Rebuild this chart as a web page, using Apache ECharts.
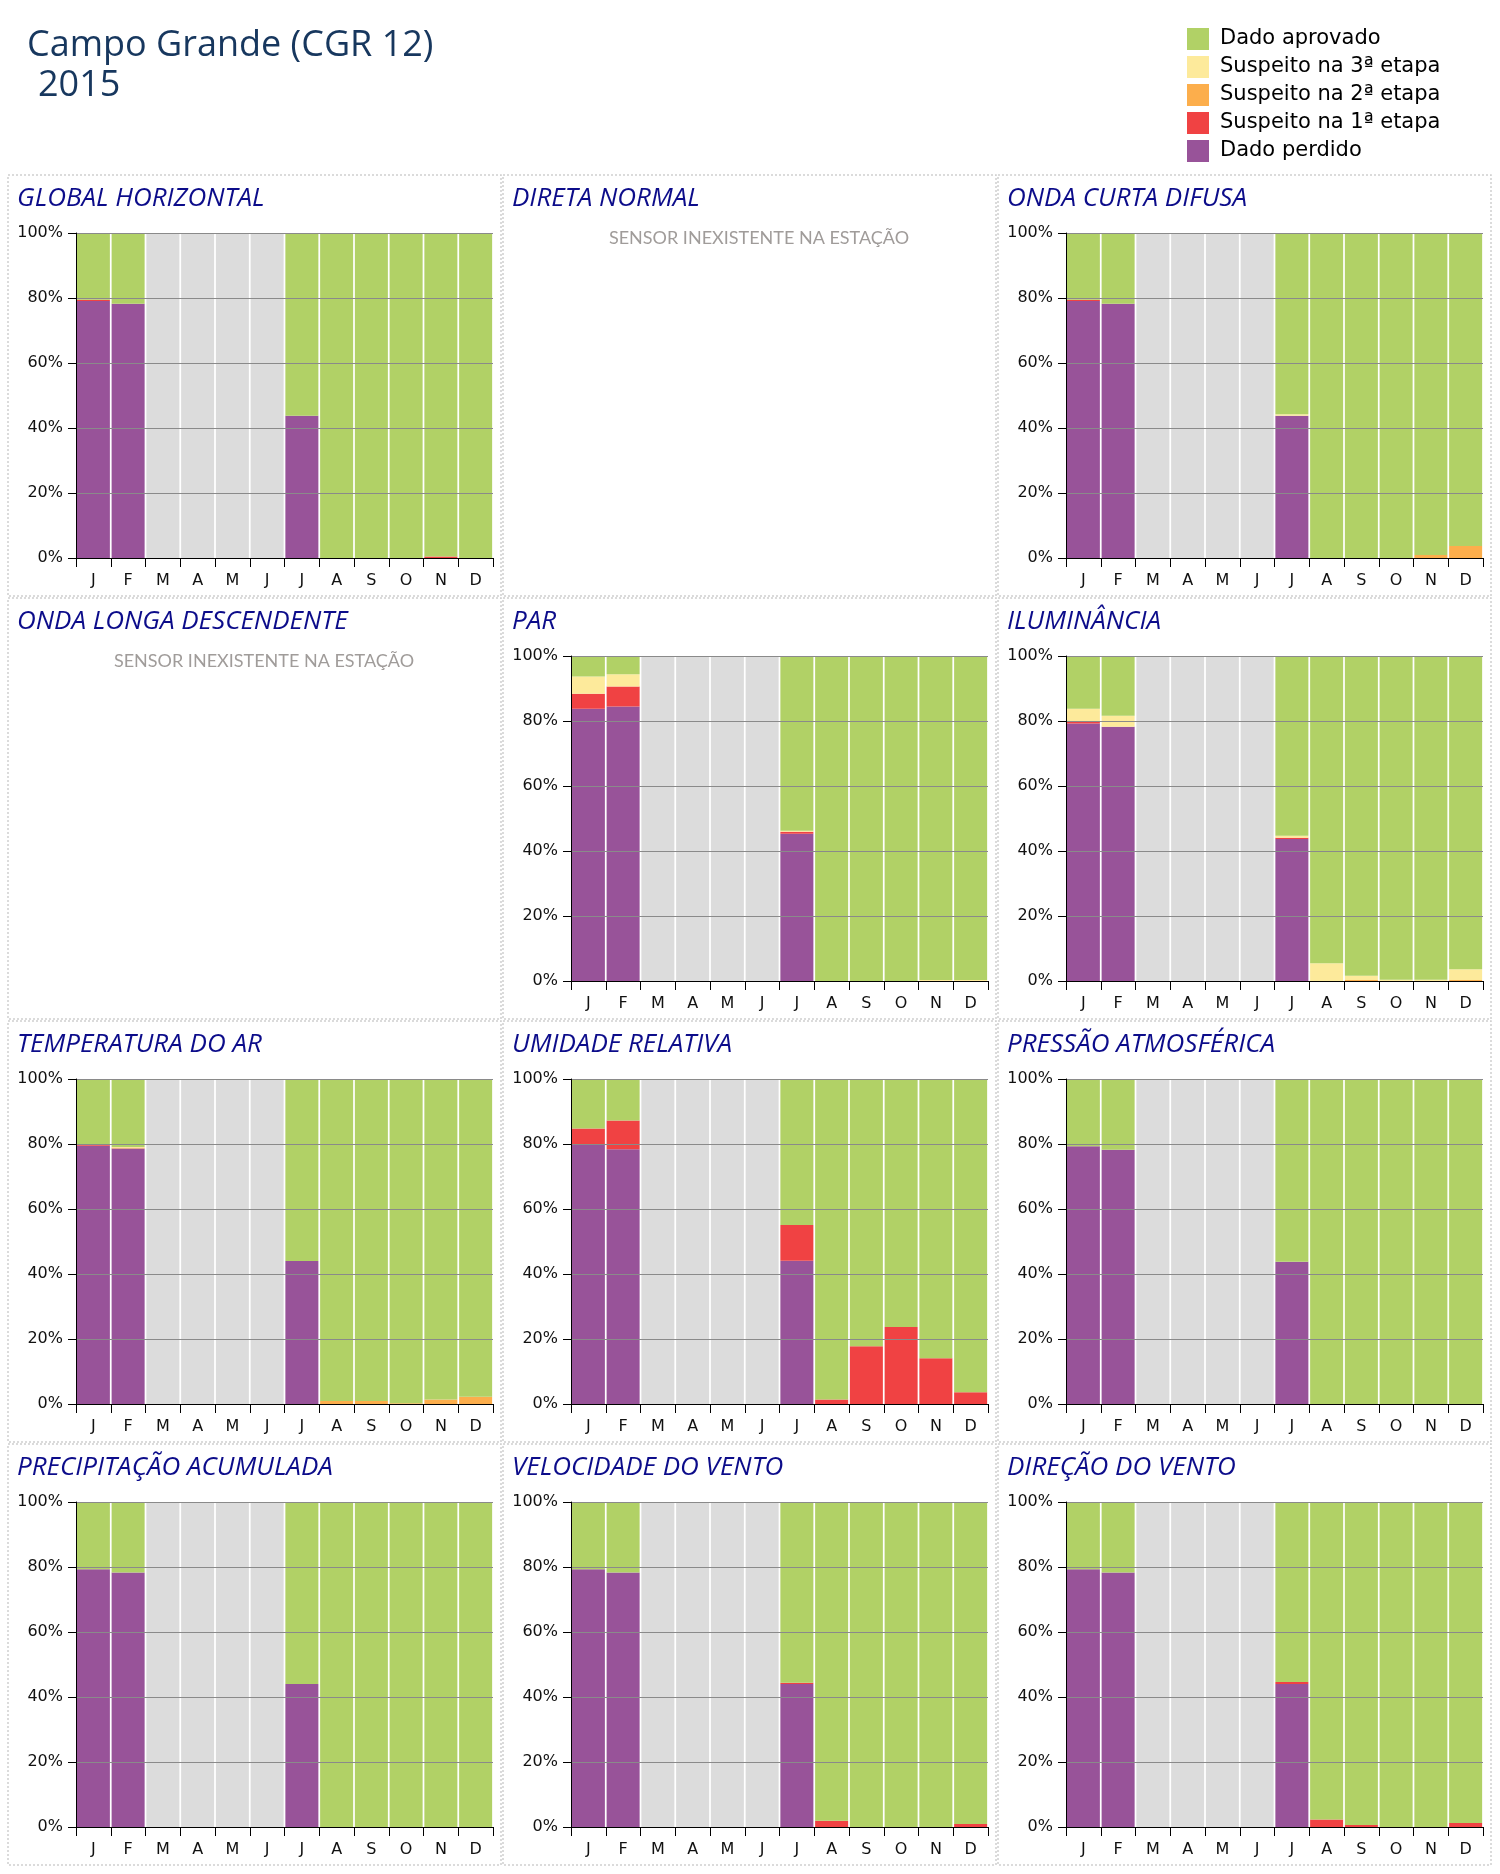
<!DOCTYPE html>
<html>
<head>
<meta charset="utf-8">
<script src="https://cdn.jsdelivr.net/npm/echarts@6/dist/echarts.min.js"></script>
<style>
html,body{margin:0;padding:0;background:#fff;}
#c{width:1500px;height:1874px;}
</style>
</head>
<body>
<div id="c"></div>
<script>
// ---- Data ----
const meses = ['J','F','M','A','M','J','J','A','S','O','N','D'];
const legendaNomes = ['Dado aprovado','Suspeito na 3ª etapa','Suspeito na 2ª etapa','Suspeito na 1ª etapa','Dado perdido'];
const semDados = [0,0,100,100,100,100,0,0,0,0,0,0];

// GLOBAL HORIZONTAL
const gh_perdido  = [79.1,78.2,0,0,0,0,43.8,0,0,0,0,0];
const gh_s1       = [0.4,0,0,0,0,0,0,0,0,0,0.5,0];
const gh_s2       = [0,0,0,0,0,0,0,0,0,0,0,0];
const gh_s3       = [0,0,0,0,0,0,0,0,0,0,0,0];
const gh_aprovado = [20.5,21.8,0,0,0,0,56.2,100,100,100,99.5,100];

// ONDA CURTA DIFUSA
const dif_perdido  = [79.1,78.2,0,0,0,0,43.8,0,0,0,0,0];
const dif_s1       = [0.4,0,0,0,0,0,0,0,0,0,0,0];
const dif_s2       = [0,0,0,0,0,0,0,0,0,0,0.9,3.7];
const dif_s3       = [0,0,0,0,0,0,0.4,0,0,0,0,0];
const dif_aprovado = [20.5,21.8,0,0,0,0,55.8,100,100,100,99.1,96.3];

// PAR
const par_perdido  = [83.8,84.5,0,0,0,0,45.3,0,0,0,0,0];
const par_s1       = [4.6,6.1,0,0,0,0,0.6,0,0,0,0,0];
const par_s2       = [0,0,0,0,0,0,0,0,0,0,0,0];
const par_s3       = [5.3,3.8,0,0,0,0,0.3,0,0,0,0.3,0.3];
const par_aprovado = [6.3,5.6,0,0,0,0,53.8,100,100,100,99.7,99.7];

// ILUMINÂNCIA
const ilu_perdido  = [79.2,78.2,0,0,0,0,43.7,0,0,0,0,0];
const ilu_s1       = [0.5,0,0,0,0,0,0.4,0,0,0,0,0];
const ilu_s2       = [0,0,0,0,0,0,0,0,0.3,0,0,0.3];
const ilu_s3       = [4.1,3.4,0,0,0,0,0.6,5.5,1.3,0.4,0.4,3.3];
const ilu_aprovado = [16.2,18.4,0,0,0,0,55.3,94.5,98.4,99.6,99.6,96.4];

// TEMPERATURA DO AR
const temp_perdido  = [79.5,78.6,0,0,0,0,44.0,0,0,0,0,0];
const temp_s1       = [0.3,0,0,0,0,0,0,0,0,0,0,0];
const temp_s2       = [0,0.3,0,0,0,0,0,0.9,0.9,0.2,1.4,2.2];
const temp_s3       = [0,0.2,0,0,0,0,0,0,0,0,0,0];
const temp_aprovado = [20.2,20.9,0,0,0,0,56.0,99.1,99.1,99.8,98.6,97.8];

// UMIDADE RELATIVA
const umi_perdido  = [79.7,78.4,0,0,0,0,44.1,0,0,0,0,0];
const umi_s1       = [5.1,8.8,0,0,0,0,11.0,1.4,17.8,23.7,14.1,3.6];
const umi_s2       = [0,0,0,0,0,0,0,0,0,0,0,0];
const umi_s3       = [0,0,0,0,0,0,0,0,0,0,0,0];
const umi_aprovado = [15.2,12.8,0,0,0,0,44.9,98.6,82.2,76.3,85.9,96.4];

// PRESSÃO ATMOSFÉRICA
const pre_perdido  = [79.3,78.2,0,0,0,0,43.8,0,0,0,0,0];
const pre_s1       = [0,0,0,0,0,0,0,0,0,0,0,0];
const pre_s2       = [0,0,0,0,0,0,0,0,0,0,0,0];
const pre_s3       = [0,0,0,0,0,0,0,0,0,0,0,0];
const pre_aprovado = [20.7,21.8,0,0,0,0,56.2,100,100,100,100,100];

// PRECIPITAÇÃO ACUMULADA
const prc_perdido  = [79.3,78.3,0,0,0,0,44.0,0,0,0,0,0];
const prc_s1       = [0,0,0,0,0,0,0,0,0,0,0,0];
const prc_s2       = [0,0,0,0,0,0,0,0,0,0,0,0];
const prc_s3       = [0,0,0,0,0,0,0,0,0,0,0,0];
const prc_aprovado = [20.7,21.7,0,0,0,0,56.0,100,100,100,100,100];

// VELOCIDADE DO VENTO
const vel_perdido  = [79.3,78.3,0,0,0,0,44.0,0,0,0,0,0];
const vel_s1       = [0,0,0,0,0,0,0.4,1.9,0,0,0,0.9];
const vel_s2       = [0,0,0,0,0,0,0,0,0,0,0,0];
const vel_s3       = [0,0,0,0,0,0,0,0,0,0,0,0];
const vel_aprovado = [20.7,21.7,0,0,0,0,55.6,98.1,100,100,100,99.1];

// DIREÇÃO DO VENTO
const dir_perdido  = [79.3,78.3,0,0,0,0,44.0,0,0,0,0,0];
const dir_s1       = [0,0,0,0,0,0,0.6,2.3,0.6,0,0,1.2];
const dir_s2       = [0,0,0,0,0,0,0,0,0,0,0,0];
const dir_s3       = [0,0,0,0,0,0,0,0,0,0,0,0];
const dir_aprovado = [20.7,21.7,0,0,0,0,55.4,97.7,99.4,100,100,98.8];

// ---- Layout / style ----
const cores = {aprovado:'#b1d166', s3:'#fdea9b', s2:'#fcae4c', s1:'#f04243', perdido:'#985399', sem:'#dcdcdc'};
const panelLeft = [8, 503, 998];
const panelTop = [175, 598, 1021, 1444];
const panelW = 493, panelH = 421;

const paineis = [
  {t:'GLOBAL HORIZONTAL', d:[gh_perdido,gh_s1,gh_s2,gh_s3,gh_aprovado]},
  {t:'DIRETA NORMAL', d:null},
  {t:'ONDA CURTA DIFUSA', d:[dif_perdido,dif_s1,dif_s2,dif_s3,dif_aprovado]},
  {t:'ONDA LONGA DESCENDENTE', d:null},
  {t:'PAR', d:[par_perdido,par_s1,par_s2,par_s3,par_aprovado]},
  {t:'ILUMINÂNCIA', d:[ilu_perdido,ilu_s1,ilu_s2,ilu_s3,ilu_aprovado]},
  {t:'TEMPERATURA DO AR', d:[temp_perdido,temp_s1,temp_s2,temp_s3,temp_aprovado]},
  {t:'UMIDADE RELATIVA', d:[umi_perdido,umi_s1,umi_s2,umi_s3,umi_aprovado]},
  {t:'PRESSÃO ATMOSFÉRICA', d:[pre_perdido,pre_s1,pre_s2,pre_s3,pre_aprovado]},
  {t:'PRECIPITAÇÃO ACUMULADA', d:[prc_perdido,prc_s1,prc_s2,prc_s3,prc_aprovado]},
  {t:'VELOCIDADE DO VENTO', d:[vel_perdido,vel_s1,vel_s2,vel_s3,vel_aprovado]},
  {t:'DIREÇÃO DO VENTO', d:[dir_perdido,dir_s1,dir_s2,dir_s3,dir_aprovado]}
];

const grids = [], xAxes = [], yAxes = [], series = [], graphics = [];

// main title
graphics.push({type:'text', left:27, top:28, style:{text:'Campo Grande (CGR 12)', font:'36px "Open Sans"', fill:'#17375e'}});
graphics.push({type:'text', left:38, top:68, style:{text:'2015', font:'36px "Open Sans"', fill:'#17375e'}});

let gi = 0;
paineis.forEach((p, k) => {
  const col = k % 3, row = Math.floor(k / 3);
  const px = panelLeft[col], py = panelTop[row];
  graphics.push({type:'rect', shape:{x:px, y:py, width:panelW, height:panelH},
    style:{fill:null, stroke:'#cfcfcf', lineWidth:1.5, lineDash:[2,2]}, z:0});
  graphics.push({type:'text', x:px+9, y:py+24, style:{text:p.t, font:'italic 26px "Open Sans"', fill:'#0c0c8a', verticalAlign:'middle'}});
  if (!p.d) {
    graphics.push({type:'text', x:px+256, y:py+63, style:{text:'SENSOR INEXISTENTE NA ESTAÇÃO', font:'18px Lato', fill:'#a09c9a', align:'center', verticalAlign:'middle'}});
    return;
  }
  grids.push({left:px+68, top:py+58, width:417, height:325});
  xAxes.push({type:'category', gridIndex:gi, data:meses, z:4,
    axisLine:{lineStyle:{color:'#000', width:1}},
    axisTick:{show:true, interval:0, length:9, lineStyle:{color:'#000'}},
    axisLabel:{interval:0, margin:15, fontSize:16, fontFamily:'DejaVu Sans', color:'#111'}});
  yAxes.push({type:'value', gridIndex:gi, min:0, max:100, interval:20, z:3,
    axisLine:{show:true, lineStyle:{color:'#000', width:1}},
    axisTick:{show:true, length:8, lineStyle:{color:'#000'}},
    axisLabel:{formatter:'{value}%', margin:13, fontSize:16, fontFamily:'DejaVu Sans', color:'#111'},
    splitLine:{show:true, lineStyle:{color:'#8a8a8a', width:1}}});
  const nomes = ['Dado perdido','Suspeito na 1ª etapa','Suspeito na 2ª etapa','Suspeito na 3ª etapa','Dado aprovado'];
  const cs = [cores.perdido, cores.s1, cores.s2, cores.s3, cores.aprovado];
  p.d.forEach((arr, j) => {
    series.push({type:'bar', name:nomes[j], xAxisIndex:gi, yAxisIndex:gi, stack:'p'+gi,
      barCategoryGap:'5%', data:arr, itemStyle:{color:cs[j]}, silent:true});
  });
  series.push({type:'bar', name:'Sem dados', xAxisIndex:gi, yAxisIndex:gi, stack:'p'+gi,
    barCategoryGap:'5%', data:semDados, itemStyle:{color:cores.sem}, silent:true});
  gi++;
});

const chart = echarts.init(document.getElementById('c'), null, {renderer:'canvas'});
chart.setOption({
  animation:false,
  backgroundColor:'#fff',
  grid:grids, xAxis:xAxes, yAxis:yAxes, series:series,
  legend:{orient:'vertical', left:1182, top:23, itemWidth:22, itemHeight:22, itemGap:6,
    icon:'rect', selectedMode:false, data:legendaNomes,
    textStyle:{fontSize:21, fontFamily:'DejaVu Sans', color:'#000', padding:[0,0,0,6]}},
  graphic:graphics
});
</script>
</body>
</html>
